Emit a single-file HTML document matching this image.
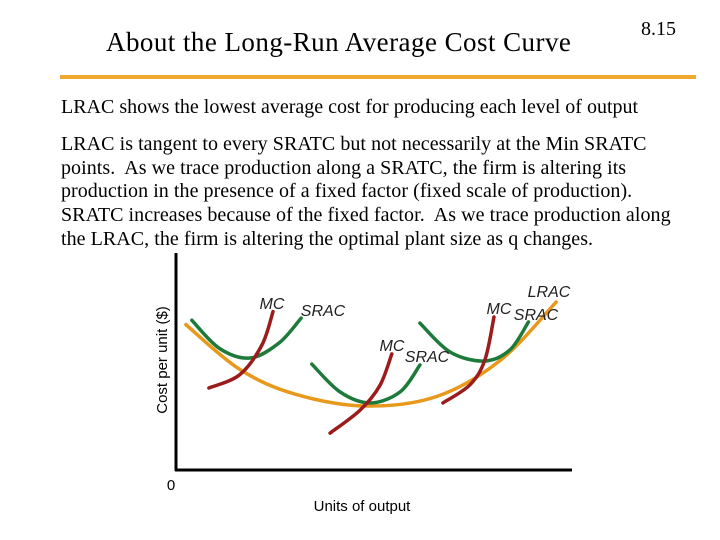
<!DOCTYPE html>
<html><head><meta charset="utf-8"><style>
body{margin:0;width:720px;height:540px;background:#fff;overflow:hidden;position:relative;font-family:"Liberation Serif",serif}
.t{position:absolute;white-space:nowrap;color:#000}
</style></head><body>
<div class="t" style="left:106px;top:27px;font-size:27px;letter-spacing:0.45px">About the Long-Run Average Cost Curve</div>
<div class="t" style="left:641px;top:18px;font-size:20px">8.15</div>
<div style="position:absolute;left:60px;top:75px;width:636px;height:4px;background:#f0a830"></div>
<div class="t" style="left:61px;top:96px;font-size:20px;letter-spacing:0px">LRAC shows the lowest average cost for producing each level of output</div>
<div class="t" style="left:61px;top:133px;font-size:20px;line-height:23.7px;letter-spacing:0.05px">LRAC is tangent to every SRATC but not necessarily at the Min SRATC<br>points.&nbsp; As we trace production along a SRATC, the firm is altering its<br>production in the presence of a fixed factor (fixed scale of production).<br>SRATC increases because of the fixed factor.&nbsp; As we trace production along<br>the LRAC, the firm is altering the optimal plant size as q changes.</div>
<svg id="chart" width="720" height="540" style="position:absolute;left:0;top:0" font-family="Liberation Sans, sans-serif"></svg>
<script>
const lrac=[[2.5,67],[16,46.5],[30,35],[48,29.5],[66,34],[82,50.7],[96,77.4]];
const srac1=[[4,69],[11,56],[18.7,51.6],[26,58.5],[31.6,70]];
const mc1=[[8.3,37.8],[16,43.8],[21.7,57.6],[24.5,73]];
const srac2=[[34.3,48.8],[41.4,36],[49,30.9],[56.6,36],[61.6,48.4]];
const mc2=[[38.9,17],[46.5,27.6],[51.5,39],[54.5,53.5]];
const srac3=[[61.6,67.7],[69.2,54.4],[77.8,50.2],[84.3,55.3],[89,68.2]];
const mc3=[[67.4,30.9],[74.2,39.2],[78,50.7],[80.3,70.5]];
const X=v=>176+v*3.96, Y=v=>470-v*2.17;
const svg=document.getElementById('chart'),NS='http://www.w3.org/2000/svg';
function mk(t,a){const e=document.createElementNS(NS,t);for(const k in a)e.setAttribute(k,a[k]);svg.appendChild(e);return e;}
function path(pts){const p=pts.map(d=>[X(d[0]),Y(d[1])]);let s='M'+p[0];for(let i=0;i<p.length-1;i++){const a=p[i-1]||p[i],b=p[i],c=p[i+1],d=p[i+2]||c;s+=' C'+(b[0]+(c[0]-a[0])/6)+','+(b[1]+(c[1]-a[1])/6)+' '+(c[0]-(d[0]-b[0])/6)+','+(c[1]-(d[1]-b[1])/6)+' '+c;}return s;}
let e;
e=mk('line',{x1:176,y1:253,x2:176,y2:471,stroke:'#000','stroke-width':3});


e=mk('line',{x1:175,y1:470,x2:572,y2:470,stroke:'#000','stroke-width':3});


const series=[[lrac,'#e8991c','lrac-curve'],[srac1,'#1e7a3a','srac-curve-1'],[srac2,'#1e7a3a','srac-curve-2'],[srac3,'#1e7a3a','srac-curve-3'],[mc1,'#9b1c1c','mc-curve-1'],[mc2,'#9b1c1c','mc-curve-2'],[mc3,'#9b1c1c','mc-curve-3']];
series.forEach(s=>{e=mk('path',{d:path(s[0]),fill:'none',stroke:s[1],'stroke-width':3.5,'stroke-linecap':'round'});

});
const labels=[['MC',272,309,'mc-label-1'],['SRAC',323,316,'srac-label-1'],['MC',392,351,'mc-label-2'],['SRAC',427,362,'srac-label-2'],['MC',499,314,'mc-label-3'],['SRAC',536,320,'srac-label-3'],['LRAC',549,297,'lrac-label']];
labels.forEach(l=>{e=mk('text',{x:l[1],y:l[2],'font-size':16,'font-style':'italic','text-anchor':'middle',fill:'#222'});e.textContent=l[0];

});
e=mk('text',{x:0,y:0,'font-size':15,'text-anchor':'middle',transform:'translate(167,360) rotate(-90)'});e.textContent='Cost per unit ($)';


e=mk('text',{x:171,y:490,'font-size':15,'text-anchor':'middle'});e.textContent='0';


e=mk('text',{x:362,y:511,'font-size':15,'text-anchor':'middle'});e.textContent='Units of output';


</script>
</body></html>
